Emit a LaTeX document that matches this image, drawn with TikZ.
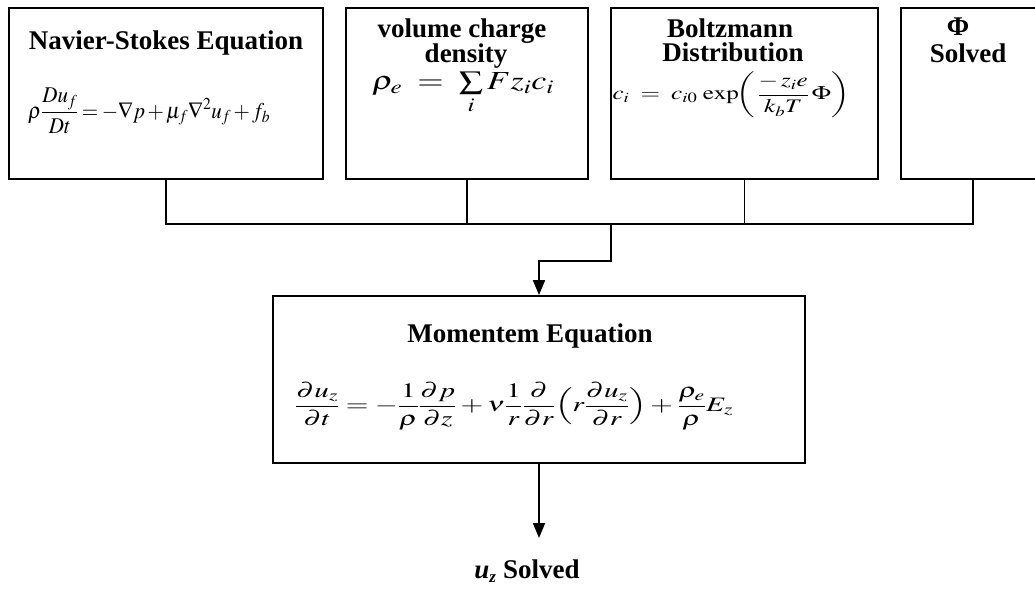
\documentclass[tikz,border=0pt]{standalone}
\usepackage{mathptmx}
\usepackage{fontspec}
\setmainfont{Liberation Serif}
\usepackage{graphicx}
\usetikzlibrary{arrows.meta}
\begin{document}
\sbox0{\fontsize{24}{26}\selectfont$x$}
\begin{tikzpicture}[x=1pt,y=-1pt,
  box/.style={draw, line width=1.8pt, inner sep=0pt},
  ttl/.style={font=\fontsize{27}{30}\selectfont\bfseries, inner sep=0pt, anchor=base},
  eqn/.style={inner sep=0pt},
  wire/.style={line width=1.8pt},
  arr/.style={line width=1.8pt, -{Triangle[length=15pt,width=12pt]}}]
\useasboundingbox (0,0) rectangle (1035,593);
\fill[white] (0,0) rectangle (1035,593);
\clip (0,0) rectangle (1035,593);
% boxes
\node[box, minimum width=314pt, minimum height=171pt] (b1) at (166,93.5) {};
\node[box, minimum width=242pt, minimum height=171pt] (b2) at (467,93.5) {};
\node[box, minimum width=267pt, minimum height=171pt] (b3) at (744.5,93.5) {};
\node[box, minimum width=144pt, minimum height=171pt] (b4) at (973,93.5) {};
\node[box, minimum width=532pt, minimum height=167pt] (mom) at (539,379.5) {};
% box 1
\node[ttl] (t1) at (166,50) {Navier-Stokes Equation};
\node[eqn] (e1) at (149,111) {\resizebox*{242pt}{46pt}{\fontsize{24}{26}\selectfont\medmuskip=2mu\thickmuskip=3mu$\displaystyle \rho\frac{Du_f}{Dt} = -\nabla p + \mu_f\nabla^2 u_f + f_b$}};
% box 2
\node[ttl] (t2a) at (462,38) {volume charge};
\node[ttl] (t2b) at (466,63) {density};
\node[eqn] (e2) at (463,93) {\resizebox*{182pt}{42pt}{\fontsize{28}{30}\selectfont$\rho_e \;=\; \sum\limits_i F z_i c_i$}};
% box 3
\node[ttl] (t3a) at (730,38) {Boltzmann};
\node[ttl] (t3b) at (733,62) {Distribution};
\node[eqn] (e3) at (731,95) {\resizebox*{237pt}{46pt}{\fontsize{22}{24}\selectfont$\displaystyle c_i \;=\; c_{i0}\,\exp\!\biggl(\,\frac{-\,z_i e}{k_b T}\,\Phi\biggr)$}};
% box 4
\node[ttl] (t4a) at (958,36) {Φ};
\node[ttl] (t4b) at (968,63) {Solved};
% momentum box
\node[ttl] (tm) at (530,342) {Momentem Equation};
\node[eqn] (em) at (514,406) {\resizebox*{438pt}{48pt}{\fontsize{25}{28}\selectfont$\displaystyle \frac{\partial u_z}{\partial t} = -\frac{1}{\rho}\frac{\partial p}{\partial z} + \nu\frac{1}{r}\frac{\partial}{\partial r}\Bigl(r\frac{\partial u_z}{\partial r}\Bigr) + \frac{\rho_e}{\rho}E_z$}};
% result
\node[ttl] (uz) at (527,578) {\textit{u}$_{\mbox{\fontsize{17}{18}\selectfont\bfseries\itshape z}}$ Solved};
% connectors
\coordinate (bus1) at (166,224);
\coordinate (bus4) at (973,224);
\coordinate (jn) at (611,224);
\coordinate (jd) at (611,261);
\coordinate (jl) at (539,261);
\coordinate (uzin) at (539,538);
\draw[wire] (b1.south) -- (bus1) -- (bus4) -- (b4.south);
\draw[wire] (b2.south) -- (b2.south |- bus1);
\draw[wire] (b3.south) -- (b3.south |- bus1);
\draw[arr] (jn) -- (jd) -- (jl) -- (mom.north);
\draw[arr] (mom.south) -- (uzin);
\end{tikzpicture}
\end{document}
